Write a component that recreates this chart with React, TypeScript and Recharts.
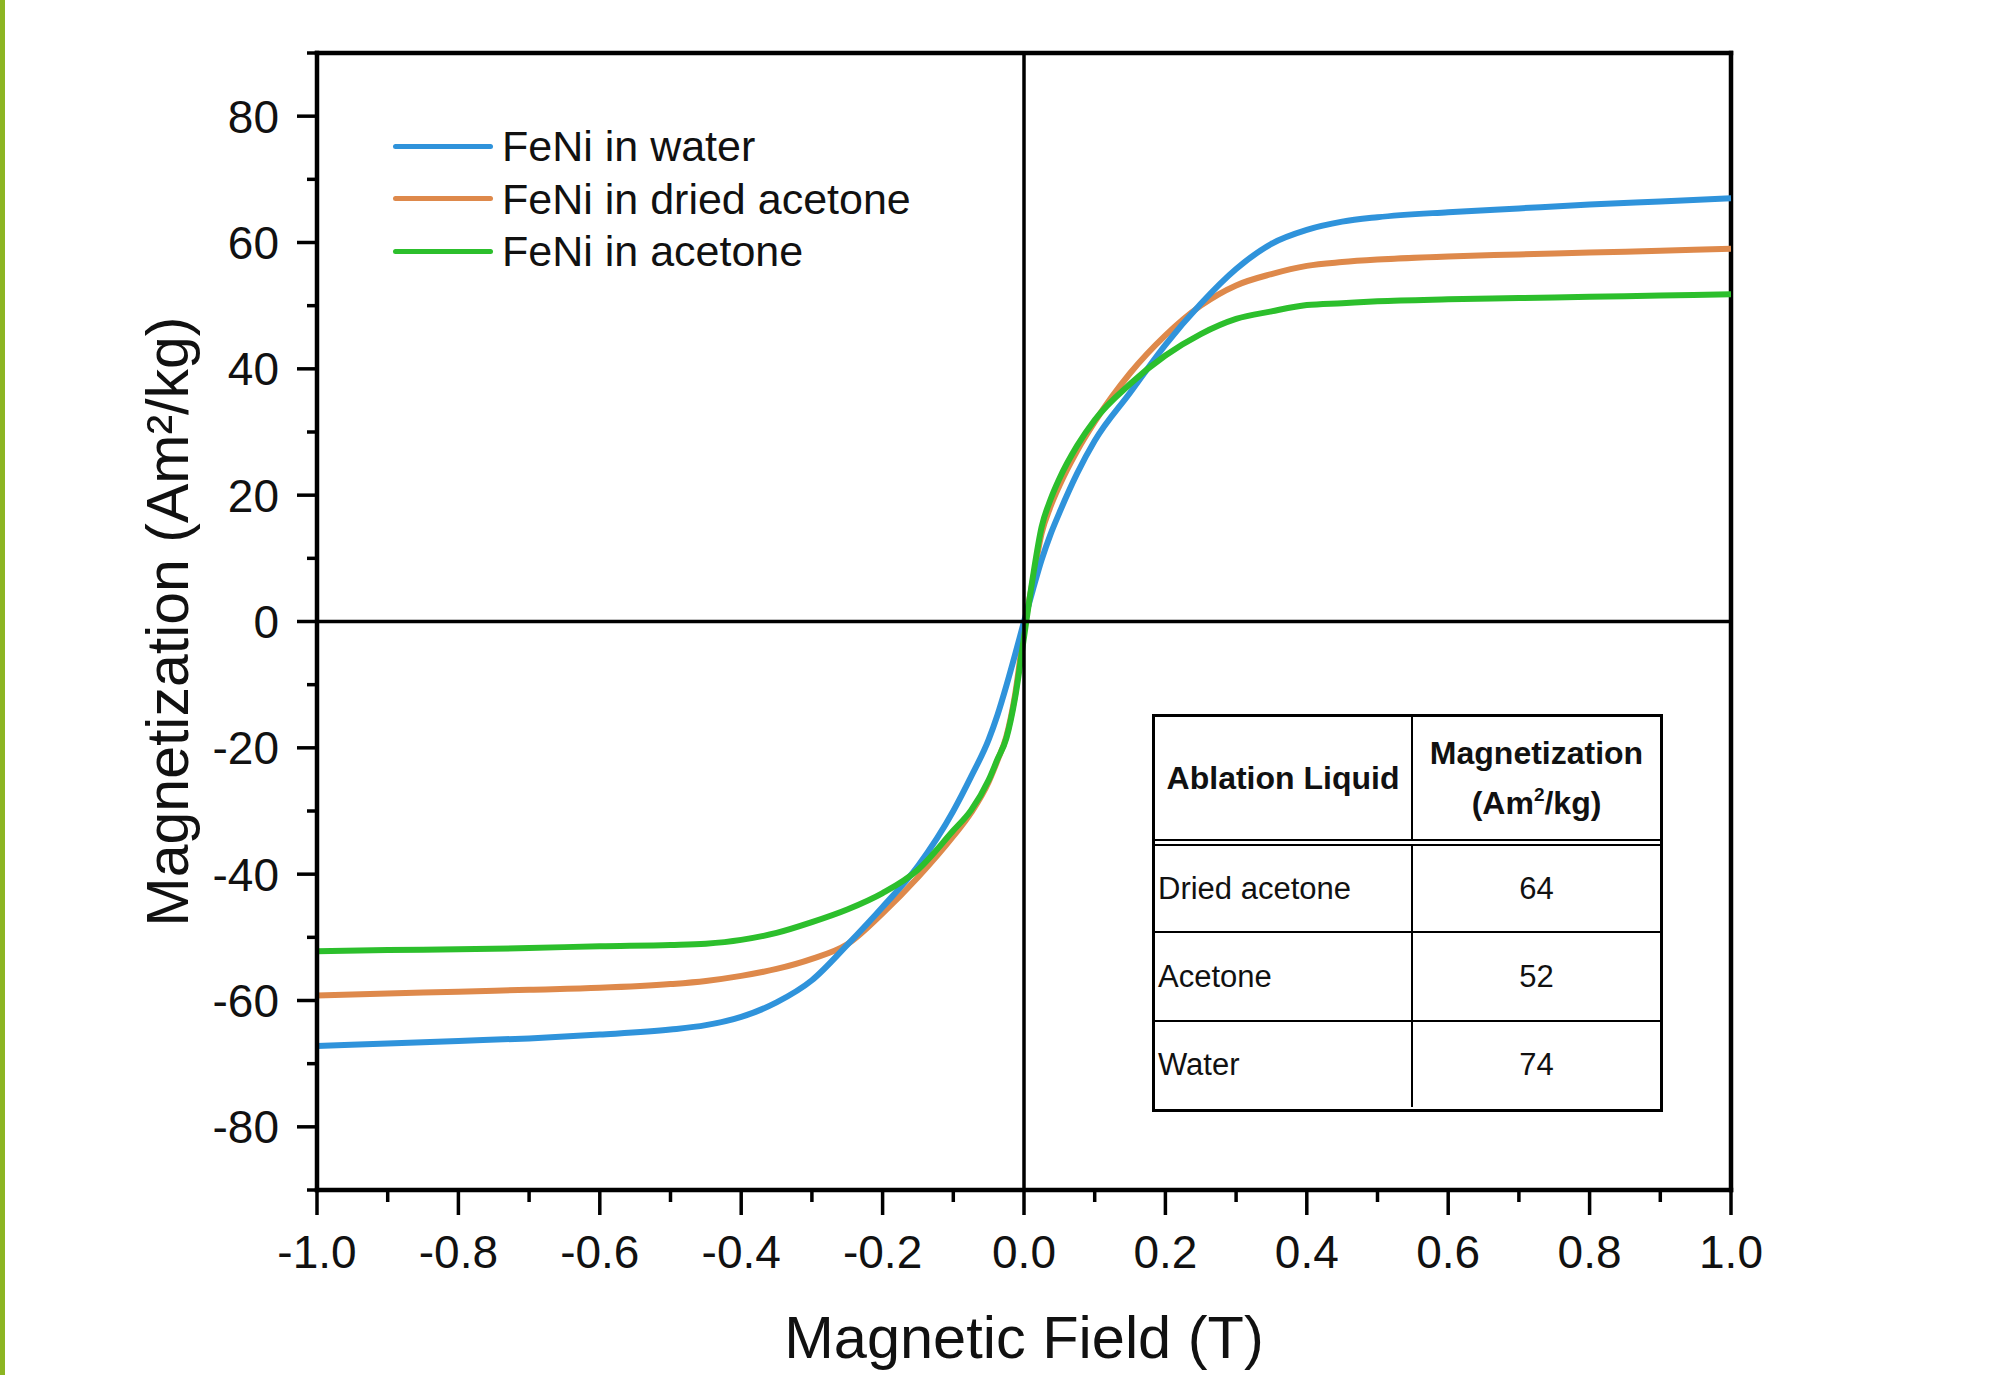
import { LineChart, Line, XAxis, YAxis, ReferenceLine, Legend } from "recharts";

// applied field (T) and magnetization (Am²/kg)
const FIELD = [
    -1.0, -0.9, -0.8, -0.7, -0.6, -0.5, -0.45, -0.4, -0.35, -0.3, -0.25, -0.2, -0.15, -0.1, -0.075, -0.05,
    -0.0375, -0.025, -0.0125, 0, 0.0125, 0.025, 0.0375, 0.05, 0.075, 0.1, 0.15, 0.2, 0.25, 0.3, 0.35, 0.4, 0.45,
    0.5, 0.6, 0.7, 0.8, 0.9, 1.0,
];
const WATER = [
    -67.2, -66.8, -66.4, -66.0, -65.4, -64.6, -63.9, -62.6, -60.3, -56.8, -51.2, -45.2, -38.7, -30.0, -24.6,
    -18.7, -14.8, -10.2, -5.2, 0, 5.0, 9.8, 13.8, 17.2, 23.4, 28.6, 36.2, 43.8, 50.3, 55.8, 59.8, 62.0, 63.3,
    64.0, 64.8, 65.4, 66.0, 66.5, 67.0,
];
const DRIED_ACETONE = [
    -59.2, -58.9, -58.6, -58.3, -58.0, -57.4, -56.9, -56.1, -55.0, -53.4, -51.1, -46.2, -40.5, -34.0, -30.3,
    -25.4, -22.0, -18.2, -11.5, -1.5, 6.5, 14.0, 18.2, 21.5, 27.0, 31.6, 39.3, 45.3, 50.0, 53.2, 55.0, 56.3,
    56.9, 57.3, 57.8, 58.1, 58.4, 58.7, 59.0,
];
const ACETONE = [
    -52.2, -52.0, -51.9, -51.7, -51.4, -51.2, -51.0, -50.4, -49.3, -47.6, -45.6, -43.0, -39.3, -33.1, -29.9,
    -25.1, -21.8, -18.5, -12.0, -2.5, 7.0, 15.0, 19.3, 22.6, 27.8, 31.9, 37.6, 42.1, 45.5, 47.9, 49.1, 50.1,
    50.4, 50.7, 51.0, 51.2, 51.4, 51.6, 51.8,
];

const X_TICKS = [-1.0, -0.9, -0.8, -0.7, -0.6, -0.5, -0.4, -0.3, -0.2, -0.1, 0, 0.1, 0.2, 0.3, 0.4, 0.5, 0.6, 0.7, 0.8, 0.9, 1.0];
const Y_TICKS = [-90, -80, -70, -60, -50, -40, -30, -20, -10, 0, 10, 20, 30, 40, 50, 60, 70, 80, 90];

const TABLE_LIQUIDS = ["Dried acetone", "Acetone", "Water"];
const TABLE_MAGNETIZATION = [64, 52, 74];

const FONT = '"Liberation Sans", Arial, sans-serif';
const INK = "#111111";

// legend order; lines are drawn orange, blue, green (green ends up on top)
const SERIES = [
    { key: "water", name: "FeNi in water", color: "#2f93db" },
    { key: "dried", name: "FeNi in dried acetone", color: "#de894b" },
    { key: "acetone", name: "FeNi in acetone", color: "#2cbf2c" },
];
const DRAW_ORDER = ["dried", "water", "acetone"];

const chartData = FIELD.map((h, i) => ({
    field: h,
    water: WATER[i],
    dried: DRIED_ACETONE[i],
    acetone: ACETONE[i],
}));

// eslint-disable-next-line @typescript-eslint/no-explicit-any
function YTick({ x, y, payload }: any) {
    const v = payload.value as number;
    const major = v % 20 === 0;
    return (
        <g>
            <line x1={x} x2={x - (major ? 20 : 10)} y1={y} y2={y} stroke="#000" strokeWidth={3.5} />
            {major && (
                <text x={x - 38} y={y} dy="0.36em" textAnchor="end" fontSize={46} fontFamily={FONT} fill={INK}>
                    {v}
                </text>
            )}
        </g>
    );
}

// eslint-disable-next-line @typescript-eslint/no-explicit-any
function XTick({ x, y, payload }: any) {
    const v = payload.value as number;
    const major = Math.round(v * 10) % 2 === 0;
    return (
        <g>
            <line x1={x} x2={x} y1={y} y2={y + (major ? 25 : 12)} stroke="#000" strokeWidth={3.5} />
            {major && (
                <text x={x} y={y + 78} textAnchor="middle" fontSize={46} fontFamily={FONT} fill={INK}>
                    {v.toFixed(1)}
                </text>
            )}
        </g>
    );
}

function LegendBox() {
    return (
        <div style={{ fontFamily: FONT }}>
            {SERIES.map((s) => (
                <div key={s.key} style={{ display: "flex", alignItems: "center", height: 52.5 }}>
                    <div style={{ width: 100, height: 5, background: s.color, borderRadius: 3 }} />
                    <span style={{ marginLeft: 9, fontSize: 43, color: INK, lineHeight: "52px", whiteSpace: "nowrap" }}>
                        {s.name}
                    </span>
                </div>
            ))}
        </div>
    );
}

function ResultTable() {
    const cellText = { fontSize: 31, color: INK };
    const rowHeights = [85, 87, 85];
    const leftCol = {
        width: 258,
        borderRight: "2px solid #000",
        boxSizing: "border-box" as const,
        display: "flex",
        alignItems: "center",
    };
    return (
        <div
            style={{
                position: "absolute",
                left: 1152,
                top: 714,
                width: 511,
                height: 398,
                border: "3px solid #000",
                boxSizing: "border-box",
                background: "#fff",
                fontFamily: FONT,
            }}
        >
            <div style={{ display: "flex", height: 129, borderBottom: "7px double #000", boxSizing: "border-box" }}>
                <div style={{ ...leftCol, justifyContent: "center", fontWeight: "bold", fontSize: 32, color: INK }}>
                    Ablation Liquid
                </div>
                <div
                    style={{
                        flex: 1,
                        display: "flex",
                        flexDirection: "column",
                        alignItems: "center",
                        justifyContent: "center",
                        fontWeight: "bold",
                        fontSize: 32,
                        lineHeight: "50px",
                        color: INK,
                        paddingTop: 4,
                    }}
                >
                    <div>Magnetization</div>
                    <div>
                        (Am<span style={{ fontSize: 19, position: "relative", top: -13 }}>2</span>/kg)
                    </div>
                </div>
            </div>
            {TABLE_LIQUIDS.map((liq, i) => (
                <div
                    key={liq}
                    style={{
                        display: "flex",
                        height: rowHeights[i],
                        borderBottom: i < TABLE_LIQUIDS.length - 1 ? "2px solid #000" : "none",
                    }}
                >
                    <div style={{ ...cellText, ...leftCol, paddingLeft: 3 }}>{liq}</div>
                    <div style={{ ...cellText, flex: 1, display: "flex", alignItems: "center", justifyContent: "center" }}>
                        {TABLE_MAGNETIZATION[i]}
                    </div>
                </div>
            ))}
        </div>
    );
}

export default function App() {
    return (
        <div style={{ position: "absolute", left: 0, top: 0, width: 1990, height: 1375, background: "#fff" }}>
            <div style={{ position: "absolute", left: 0, top: 0, width: 5, height: 1375, background: "#8cb522" }} />
            <LineChart width={1990} height={1375} data={chartData} margin={{ top: 53, right: 259, bottom: 0, left: 17 }}>
                <XAxis
                    dataKey="field"
                    type="number"
                    domain={[-1, 1]}
                    ticks={X_TICKS}
                    interval={0}
                    allowDataOverflow
                    height={185}
                    tickSize={0}
                    tickMargin={0}
                    tickLine={false}
                    tick={<XTick />}
                    axisLine={{ stroke: "#000", strokeWidth: 4.5, strokeLinecap: "square" }}
                    label={{
                        value: "Magnetic Field (T)",
                        position: "insideBottom",
                        offset: 17,
                        fontSize: 59.5,
                        fontFamily: FONT,
                        fill: INK,
                    }}
                />
                <YAxis
                    type="number"
                    domain={[-90, 90]}
                    ticks={Y_TICKS}
                    interval={0}
                    allowDataOverflow
                    width={300}
                    tickSize={0}
                    tickMargin={0}
                    tickLine={false}
                    tick={<YTick />}
                    axisLine={{ stroke: "#000", strokeWidth: 4.5, strokeLinecap: "square" }}
                    label={{
                        value: "Magnetization (Am²/kg)",
                        position: "center",
                        angle: -90,
                        fontSize: 59,
                        fontFamily: FONT,
                        fill: INK,
                    }}
                />
                <ReferenceLine y={90} stroke="#000" strokeWidth={4.5} strokeLinecap="square" />
                <ReferenceLine x={1} stroke="#000" strokeWidth={4.5} strokeLinecap="square" />
                {DRAW_ORDER.map((k) => {
                    const s = SERIES.find((d) => d.key === k)!;
                    return (
                        <Line
                            key={s.key}
                            type="monotone"
                            dataKey={s.key}
                            name={s.name}
                            stroke={s.color}
                            strokeWidth={6}
                            dot={false}
                            activeDot={false}
                            isAnimationActive={false}
                        />
                    );
                })}
                <ReferenceLine x={0} stroke="#000" strokeWidth={3.5} />
                <ReferenceLine y={0} stroke="#000" strokeWidth={3.5} />
                <Legend
                    layout="vertical"
                    align="center"
                    verticalAlign="middle"
                    content={() => <LegendBox />}
                    wrapperStyle={{ left: 393, top: 120, width: 560 }}
                />
            </LineChart>
            <ResultTable />
        </div>
    );
}
